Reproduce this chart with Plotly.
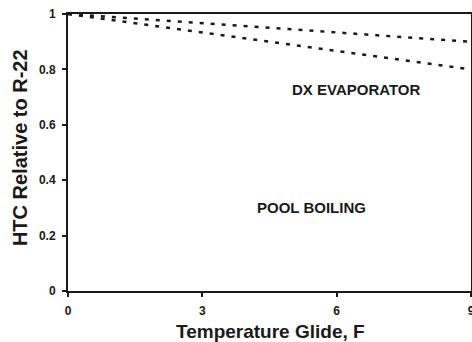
import plotly.graph_objects as go

glide = [0, 3, 6, 9]
upper_curve = [1.0, 0.967, 0.933, 0.90]
lower_curve = [1.0, 0.933, 0.867, 0.80]
x_ticks = [0, 3, 6, 9]
y_ticks = [0, 0.2, 0.4, 0.6, 0.8, 1]
y_tick_text = ["0", "0.2", "0.4", "0.6", "0.8", "1"]

FONT = "Liberation Sans, Arial, sans-serif"
INK = "#1a1a1a"

fig = go.Figure()
for name, ys in [("DX Evaporator", upper_curve), ("Pool Boiling", lower_curve)]:
    fig.add_trace(go.Scatter(
        x=glide, y=ys, mode="lines", name=name,
        line=dict(color=INK, width=2.5, dash="4px,7px"),
        showlegend=False, hoverinfo="skip"))

fig.update_layout(
    width=472, height=342,
    margin=dict(l=68, r=1, t=14, b=51),
    paper_bgcolor="white", plot_bgcolor="white",
    font=dict(family=FONT, color=INK),
)
fig.update_xaxes(
    range=[0, 9], tickvals=x_ticks, ticktext=[str(v) for v in x_ticks],
    showgrid=False, zeroline=False, showline=True, linecolor=INK, linewidth=2,
    mirror=True, ticks="outside", ticklen=4, tickwidth=1.5, tickcolor=INK,
    tickfont=dict(size=12, family=FONT, weight="bold", color=INK),
    ticklabelstandoff=4, ticklabeloverflow="allow", automargin=False,
)
fig.update_yaxes(
    range=[0, 1], tickvals=y_ticks, ticktext=y_tick_text,
    showgrid=False, zeroline=False, showline=True, linecolor=INK, linewidth=2,
    mirror=True, ticks="outside", ticklen=4, tickwidth=1.5, tickcolor=INK,
    tickfont=dict(size=12, family=FONT, weight="bold", color=INK),
    ticklabelstandoff=4, automargin=False,
)

annots = [
    dict(x=0.503, y=-0.147, xref="paper", yref="paper", text="Temperature Glide, F",
         font=dict(size=19, family=FONT, weight="bold", color=INK)),
    dict(x=-0.119, y=0.516, xref="paper", yref="paper", text="HTC Relative to R-22",
         textangle=-90, font=dict(size=20, family=FONT, weight="bold", color=INK)),
    dict(x=6.45, y=0.729, xref="x", yref="y", text="DX EVAPORATOR",
         font=dict(size=15, family=FONT, weight="bold", color=INK)),
    dict(x=5.43, y=0.30, xref="x", yref="y", text="POOL BOILING",
         font=dict(size=15, family=FONT, weight="bold", color=INK)),
]
for a in annots:
    fig.add_annotation(showarrow=False, xanchor="center", yanchor="middle", **a)

fig.write_html("out.html")
